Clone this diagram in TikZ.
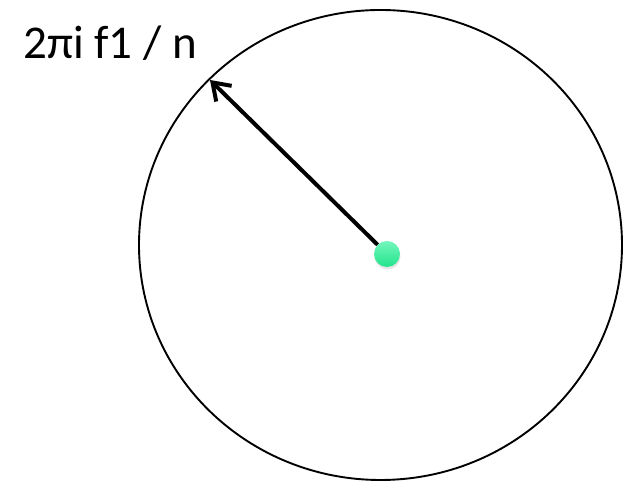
\documentclass[tikz,border=0pt]{standalone}
\usepackage{fontspec}
\setmainfont{Carlito}
\usepackage{tikz}
\usetikzlibrary{arrows.meta,positioning,shadows}
\definecolor{dotgreen}{RGB}{34,228,140}
\definecolor{dotlight}{RGB}{115,246,188}

\begin{document}
\begin{tikzpicture}[x=1pt, y=1pt,
  orbit/.style={draw=black, line width=1.9pt},
  phasor/.style={-{Straight Barb[length=16pt, width=22pt]}, line width=4pt, black},
  centre/.style={circle, draw=none, minimum size=26pt, inner sep=0pt, top color=dotlight, bottom color=dotgreen, drop shadow={opacity=0.2, shadow xshift=0.5pt, shadow yshift=-2.5pt}},
  lbl/.style={font=\fontsize{47}{56}\selectfont, inner sep=0pt, anchor=base}]
\useasboundingbox (0,0) rectangle (633,481);
\draw[orbit] (380.5,236) ellipse [x radius=241.5, y radius=235];
\coordinate (tip) at (210,401);
\node[centre] (dot) at (387,227) {};
\draw[phasor] (dot) -- (tip);
\node[lbl] (angle) at (110,422) {2πi f1 / n};
\end{tikzpicture}
\end{document}
